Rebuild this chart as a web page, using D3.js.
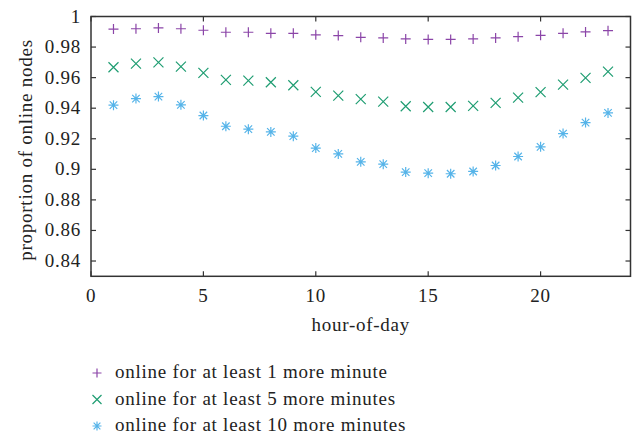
<!DOCTYPE html>
<html><head><meta charset="utf-8">
<script src="https://cdn.jsdelivr.net/npm/d3@7"></script>
<style>body{margin:0;background:#fff}svg{display:block}</style>
</head><body><svg id="c" width="638" height="434" font-family="'Liberation Serif', 'Times New Roman', serif"></svg>
<script>
const hours = d3.range(1, 24);
const s1min = [0.9918,0.9920,0.9925,0.9920,0.9910,0.9897,0.9897,0.9890,0.9890,0.9880,0.9875,0.9864,0.9860,0.9853,0.9850,0.9850,0.9853,0.9860,0.9868,0.9877,0.9890,0.9899,0.9907];
const s5min = [0.9668,0.9692,0.9700,0.9672,0.9631,0.9585,0.9580,0.9570,0.9550,0.9507,0.9482,0.9459,0.9443,0.9413,0.9408,0.9408,0.9415,0.9435,0.9469,0.9505,0.9554,0.9598,0.9639];
const s10min = [0.9420,0.9463,0.9476,0.9422,0.9352,0.9282,0.9263,0.9245,0.9217,0.9139,0.9101,0.9049,0.9034,0.8982,0.8975,0.8971,0.8986,0.9025,0.9084,0.9147,0.9234,0.9306,0.9369];
const xTicks = [0,5,10,15,20];
const yTicks = [0.84,0.86,0.88,0.9,0.92,0.94,0.96,0.98,1];
const seriesNames = ["online for at least 1 more minute","online for at least 5 more minutes","online for at least 10 more minutes"];
const colors = ["#8b45a8","#1f9d72","#56b4e9"];
const shapes = ["plus","cross","star"];

const svg = d3.select("#c");
const L=91, R=630.5, T=16.5, B=276.3;
const x = d3.scaleLinear().domain([0,24]).range([L,R]);
const y = d3.scaleLinear().domain([0.83,1]).range([B,T]);
const axCol="#333";
const tl=5, fs=19, ls="0.75px", txtCol="#222";
const g = svg.append("g");
function txt(sel){ return sel.append("text").attr("font-size",fs).attr("letter-spacing",ls).attr("fill",txtCol); }
xTicks.forEach(t=>{
  g.append("line").attr("x1",x(t)).attr("x2",x(t)).attr("y1",B).attr("y2",B-tl).attr("stroke",axCol).attr("stroke-width",1.2);
  g.append("line").attr("x1",x(t)).attr("x2",x(t)).attr("y1",T).attr("y2",T+tl).attr("stroke",axCol).attr("stroke-width",1.2);
  txt(g).attr("x",x(t)).attr("y",B+26).attr("text-anchor","middle").text(t);
});
yTicks.forEach(t=>{
  g.append("line").attr("x1",L).attr("x2",L+tl).attr("y1",y(t)).attr("y2",y(t)).attr("stroke",axCol).attr("stroke-width",1.2);
  g.append("line").attr("x1",R).attr("x2",R-tl).attr("y1",y(t)).attr("y2",y(t)).attr("stroke",axCol).attr("stroke-width",1.2);
  txt(g).attr("x",L-10).attr("y",y(t)+6).attr("text-anchor","end").text(d3.format("")(t));
});
g.append("rect").attr("x",L).attr("y",T).attr("width",R-L).attr("height",B-T).attr("fill","none").attr("stroke",axCol).attr("stroke-width",1.5);

txt(g).attr("x",(L+R)/2).attr("y",331).attr("text-anchor","middle").text("hour-of-day");
txt(g).attr("transform",`translate(32,150) rotate(-90)`).attr("text-anchor","middle").text("proportion of online nodes");

function marker(sel, shape, cx, cy, r, col){
  let d;
  if(shape==="plus") d=`M${cx-r},${cy}H${cx+r}M${cx},${cy-r}V${cy+r}`;
  else if(shape==="cross") d=`M${cx-r},${cy-r}L${cx+r},${cy+r}M${cx-r},${cy+r}L${cx+r},${cy-r}`;
  else d=`M${cx-r},${cy}H${cx+r}M${cx},${cy-r}V${cy+r}M${cx-r*0.75},${cy-r*0.75}L${cx+r*0.75},${cy+r*0.75}M${cx-r*0.75},${cy+r*0.75}L${cx+r*0.75},${cy-r*0.75}`;
  sel.append("path").attr("d",d).attr("stroke",col).attr("stroke-width",1.2).attr("fill","none");
}
[s1min,s5min,s10min].forEach((s,i)=>{
  const gg = svg.append("g");
  s.forEach((v,j)=>marker(gg, shapes[i], x(hours[j]), y(v), 5, colors[i]));
});
seriesNames.forEach((n,i)=>{
  const cy = 372 + i*26.5;
  marker(svg, shapes[i], 97, cy+1, 4.5, colors[i]);
  txt(svg).attr("x",115).attr("y",cy+6).text(n);
});
</script></body></html>
